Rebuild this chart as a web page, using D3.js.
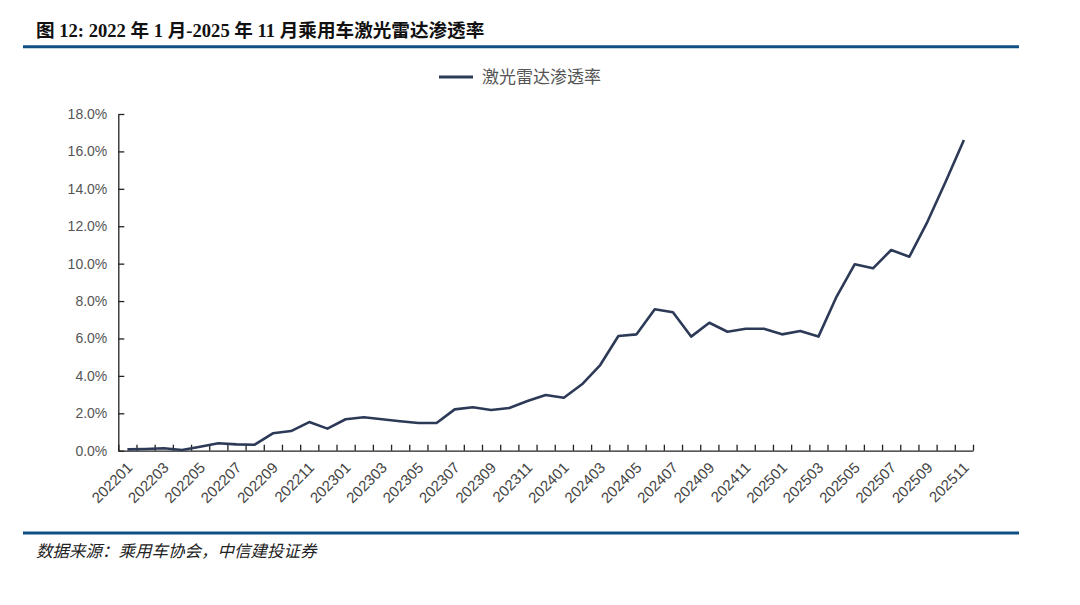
<!DOCTYPE html>
<html>
<head>
<meta charset="utf-8">
<script src="https://cdn.jsdelivr.net/npm/d3@7"></script>
<style>
    body { margin: 0; background: #fff; }
    svg { display: block; }
</style>
</head>
<body>
<div id="chart"></div>
<script>
// Monthly categories, 202201 .. 202511
const months = [
    "202201", "202202", "202203", "202204", "202205", "202206", "202207", "202208", "202209", "202210", "202211", "202212",
    "202301", "202302", "202303", "202304", "202305", "202306", "202307", "202308", "202309", "202310", "202311", "202312",
    "202401", "202402", "202403", "202404", "202405", "202406", "202407", "202408", "202409", "202410", "202411", "202412",
    "202501", "202502", "202503", "202504", "202505", "202506", "202507", "202508", "202509", "202510", "202511"
];

// Lidar penetration rate (%)
const lidarRate = [
    0.07, 0.09, 0.13, 0.04, 0.21, 0.40, 0.34, 0.32, 0.93, 1.05, 1.53, 1.18,
    1.68, 1.79, 1.68, 1.57, 1.48, 1.48, 2.21, 2.32, 2.18, 2.28, 2.66, 2.98,
    2.83, 3.55, 4.58, 6.13, 6.22, 7.56, 7.40, 6.10, 6.84, 6.36, 6.52, 6.52,
    6.22, 6.40, 6.10, 8.24, 9.97, 9.75, 10.73, 10.37, 12.25, 14.39, 16.61
];

const yTicks = [0, 2, 4, 6, 8, 10, 12, 14, 16, 18];

const titleText = "图 12: 2022 年 1 月-2025 年 11 月乘用车激光雷达渗透率";
const seriesName = "激光雷达渗透率";
const sourceText = "数据来源：乘用车协会，中信建投证券";

const width = 1080;
const height = 605;
const plot = { left: 118.3, right: 973, top: 114, bottom: 450.7 };
const lineColor = "#2c3a57";
const ruleColor = "#0f4f83";

const svg = d3.select("#chart")
    .append("svg")
    .attr("width", width)
    .attr("height", height);

svg.append("rect")
    .attr("width", width)
    .attr("height", height)
    .attr("fill", "#fff");

// Title + rules
svg.append("text")
    .attr("x", 36)
    .attr("y", 37)
    .style("font-family", "'Liberation Serif', 'Noto Sans CJK SC', serif")
    .style("font-size", "18.6px")
    .style("font-weight", "bold")
    .attr("fill", "#111")
    .text(titleText);

svg.append("line")
    .attr("x1", 23).attr("x2", 1019)
    .attr("y1", 46.7).attr("y2", 46.7)
    .attr("stroke", ruleColor)
    .attr("stroke-width", 3);

svg.append("line")
    .attr("x1", 23).attr("x2", 1019)
    .attr("y1", 533).attr("y2", 533)
    .attr("stroke", ruleColor)
    .attr("stroke-width", 3);

svg.append("text")
    .attr("x", 36)
    .attr("y", 557)
    .style("font-family", "'Noto Sans CJK SC', sans-serif")
    .style("font-size", "16.5px")
    .style("font-style", "italic")
    .attr("fill", "#222")
    .text(sourceText);

// Scales
const x = d3.scaleBand()
    .domain(months)
    .range([plot.left, plot.right])
    .padding(0);

const xTickScale = d3.scaleLinear()
    .domain([0, months.length])
    .range([plot.left, plot.right]);

const y = d3.scaleLinear()
    .domain([0, 18])
    .range([plot.bottom, plot.top]);

// Y axis
const yAxis = svg.append("g")
    .attr("transform", `translate(${plot.left},0)`)
    .call(d3.axisLeft(y)
        .tickValues(yTicks)
        .tickSizeInner(-6)
        .tickSizeOuter(0)
        .tickPadding(11)
        .tickFormat(d => d.toFixed(1) + "%"));

yAxis.select(".domain").attr("stroke", "#222").attr("stroke-width", 1.3);
yAxis.selectAll(".tick line").attr("stroke", "#222").attr("stroke-width", 1.3);
yAxis.selectAll(".tick text")
    .style("font-family", "'Liberation Sans', Arial, sans-serif")
    .style("font-size", "14px")
    .attr("fill", "#555");

// X axis: ticks between categories
const xAxis = svg.append("g")
    .attr("transform", `translate(0,${plot.bottom})`)
    .call(d3.axisBottom(xTickScale)
        .tickValues(d3.range(months.length + 1))
        .tickSizeInner(-6)
        .tickSizeOuter(0)
        .tickFormat(""));

xAxis.select(".domain").attr("stroke", "#222").attr("stroke-width", 1.3);
xAxis.selectAll(".tick line").attr("stroke", "#222").attr("stroke-width", 1.3);

// Category labels, every other month, rotated
svg.append("g")
    .selectAll("text")
    .data(months.filter((m, i) => i % 2 === 0))
    .enter()
    .append("text")
    .attr("transform", d => `translate(${x(d) + x.bandwidth() / 2 + 6},${plot.bottom + 18}) rotate(-45)`)
    .attr("text-anchor", "end")
    .style("font-family", "'Liberation Sans', Arial, sans-serif")
    .style("font-size", "15px")
    .attr("fill", "#444")
    .text(d => d);

// Series line
const line = d3.line()
    .x((d, i) => x(months[i]) + x.bandwidth() / 2)
    .y(d => y(d));

svg.append("path")
    .datum(lidarRate)
    .attr("fill", "none")
    .attr("stroke", lineColor)
    .attr("stroke-width", 2.6)
    .attr("stroke-linejoin", "round")
    .attr("d", line);

// Legend
svg.append("line")
    .attr("x1", 439).attr("x2", 473)
    .attr("y1", 77).attr("y2", 77)
    .attr("stroke", lineColor)
    .attr("stroke-width", 3);

svg.append("text")
    .attr("x", 482)
    .attr("y", 77)
    .attr("dy", "0.35em")
    .style("font-family", "'Noto Sans CJK SC', sans-serif")
    .style("font-size", "17px")
    .attr("fill", "#555")
    .text(seriesName);
</script>
</body>
</html>
